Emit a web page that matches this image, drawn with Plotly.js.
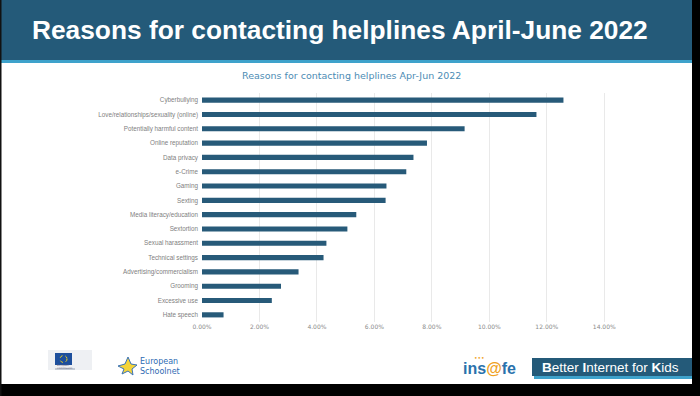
<!DOCTYPE html>
<html>
<head>
<meta charset="utf-8">
<script src="https://cdn.plot.ly/plotly-3.0.1.min.js"></script>
<style>
html,body{margin:0;padding:0;background:#fff;}
#chart{width:700px;height:396px;}
</style>
</head>
<body>
<div id="chart"></div>
<script>
// ---- data ----
var categories = [
  "Cyberbullying",
  "Love/relationships/sexuality (online)",
  "Potentially harmful content",
  "Online reputation",
  "Data privacy",
  "e-Crime",
  "Gaming",
  "Sexting",
  "Media literacy/education",
  "Sextortion",
  "Sexual harassment",
  "Technical settings",
  "Advertising/commercialism",
  "Grooming",
  "Excessive use",
  "Hate speech"
];
var shares = [12.58, 11.64, 9.14, 7.83, 7.36, 7.11, 6.42, 6.39, 5.37, 5.06, 4.33, 4.23, 3.36, 2.75, 2.43, 0.75];
var tickValues = [0, 2, 4, 6, 8, 10, 12, 14];
var tickLabels = ["0.00%", "2.00%", "4.00%", "6.00%", "8.00%", "10.00%", "12.00%", "14.00%"];
var slideTitle = "Reasons for contacting helplines April-June 2022";
var chartTitle = "Reasons for contacting helplines Apr-Jun 2022";

// ---- layout geometry ----
var W = 700, H = 396;
var M = {l: 202, r: 90, t: 93, b: 74};
var PW = W - M.l - M.r, PH = H - M.t - M.b;
function px(x){ return (x - M.l) / PW; }
function py(y){ return 1 - (y - M.t) / PH; }

var navy = "#245a79", stripe = "#3ea2cb";

var shapes = [
  // header band
  {type:"rect", xref:"paper", yref:"paper", x0:px(0), x1:px(692), y0:py(0), y1:py(60), fillcolor:navy, line:{width:0}, layer:"below"},
  {type:"rect", xref:"paper", yref:"paper", x0:px(0), x1:px(692), y0:py(60), y1:py(63), fillcolor:stripe, line:{width:0}, layer:"below"},
  // black frame
  {type:"rect", xref:"paper", yref:"paper", x0:px(692), x1:px(700), y0:py(0), y1:py(396), fillcolor:"#000", line:{width:0}},
  {type:"rect", xref:"paper", yref:"paper", x0:px(0), x1:px(700), y0:py(384), y1:py(396), fillcolor:"#000", line:{width:0}},
  {type:"rect", xref:"paper", yref:"paper", x0:px(0), x1:px(1.5), y0:py(0), y1:py(396), fillcolor:"#111", line:{width:0}},
  // Better Internet for Kids box
  {type:"rect", xref:"paper", yref:"paper", x0:px(532), x1:px(692), y0:py(358), y1:py(376), fillcolor:navy, line:{width:0}},
  {type:"rect", xref:"paper", yref:"paper", x0:px(534), x1:px(692), y0:py(376), y1:py(379), fillcolor:stripe, line:{width:0}},
  // EU logo
  {type:"rect", xref:"paper", yref:"paper", x0:px(48), x1:px(92), y0:py(350), y1:py(370), fillcolor:"#eef0f3", line:{width:0}},
  {type:"rect", xref:"paper", yref:"paper", x0:px(55), x1:px(72), y0:py(353), y1:py(365), fillcolor:"#1d4f9c", line:{width:0}},
  {type:"circle", xref:"paper", yref:"paper", x0:px(60), x1:px(67), y0:py(355.5), y1:py(362.5), fillcolor:"rgba(0,0,0,0)", line:{color:"#f2d31b", width:1, dash:"dot"}},
  {type:"line", xref:"paper", yref:"paper", x0:px(55), x1:px(75), y0:py(369), y1:py(369), line:{color:"#9aa5b5", width:1}},
  // European Schoolnet star
  {type:"path", xref:"paper", yref:"paper",
   path:"M "+px(118)+","+py(366)+" L "+px(125)+","+py(364)+" L "+px(128)+","+py(357)+" L "+px(131)+","+py(364)+" L "+px(137)+","+py(365)+" L "+px(132)+","+py(369)+" L "+px(133)+","+py(375)+" L "+px(128)+","+py(371)+" L "+px(122)+","+py(374)+" L "+px(124)+","+py(369)+" Z",
   fillcolor:"#f4d43a", line:{color:"#3a73b8", width:1}}
];

var annotations = [
  {xref:"paper", yref:"paper", x:px(30), y:py(30), xanchor:"left", yanchor:"middle", showarrow:false,
   text:"<b>"+slideTitle+"</b>", font:{family:"Liberation Sans, Arial, sans-serif", size:26.3, color:"#ffffff"}},
  {xref:"paper", yref:"paper", x:px(351), y:py(76), xanchor:"center", yanchor:"middle", showarrow:false,
   text:chartTitle, font:{family:"DejaVu Sans, sans-serif", size:9.5, color:"#4d8cb4"}},
  {xref:"paper", yref:"paper", x:px(540), y:py(367), xanchor:"left", yanchor:"middle", showarrow:false,
   text:"<b>B</b>etter <b>I</b>nternet for <b>K</b>ids", font:{family:"Liberation Sans, Arial, sans-serif", size:13.5, color:"#ffffff"}},
  {xref:"paper", yref:"paper", x:px(461), y:py(368), xanchor:"left", yanchor:"middle", showarrow:false,
   text:"<b>ins<span style='color:#f0a21f'>@</span>fe</b>", font:{family:"Liberation Sans Narrow, Liberation Sans, Arial, sans-serif", size:16, color:"#2a72ac"}},
  {xref:"paper", yref:"paper", x:px(479), y:py(357), xanchor:"center", yanchor:"middle", showarrow:false,
   text:"•••", font:{family:"DejaVu Sans, sans-serif", size:6, color:"#f0a21f"}},
  {xref:"paper", yref:"paper", x:px(138), y:py(366), xanchor:"left", yanchor:"middle", showarrow:false, align:"left",
   text:"European<br>Schoolnet", font:{family:"DejaVu Sans, sans-serif", size:8, color:"#2f6bb3"}},
  {xref:"paper", yref:"paper", x:px(55), y:py(367), xanchor:"left", yanchor:"middle", showarrow:false, align:"left",
   text:"European<br>Commission", font:{family:"DejaVu Sans, sans-serif", size:2.5, color:"#667"}}
];

var trace = {
  type:"bar",
  orientation:"h",
  x: shares,
  y: categories,
  marker:{color:"#275a79"},
  width:0.36,
  hoverinfo:"none"
};

var layout = {
  width:W, height:H,
  margin:M,
  paper_bgcolor:"#ffffff",
  plot_bgcolor:"#ffffff",
  showlegend:false,
  xaxis:{
    range:[0, 14.2],
    tickvals:tickValues,
    ticktext:tickLabels,
    showgrid:true,
    gridcolor:"#e9e9e9",
    gridwidth:1,
    zeroline:false,
    showline:false,
    ticks:"",
    tickfont:{family:"DejaVu Sans, sans-serif", size:6, color:"#8a8a8a"},
    fixedrange:true
  },
  yaxis:{
    type:"category",
    categoryorder:"array",
    categoryarray:categories,
    autorange:"reversed",
    showgrid:false,
    zeroline:false,
    showline:false,
    ticks:"",
    ticklen:0,
    ticklabelstandoff:3,
    tickfont:{family:"Liberation Sans, Arial, sans-serif", size:6.3, color:"#808080"},
    fixedrange:true
  },
  shapes:shapes,
  annotations:annotations
};

Plotly.newPlot("chart", [trace], layout, {displayModeBar:false, staticPlot:true});
</script>
</body>
</html>
